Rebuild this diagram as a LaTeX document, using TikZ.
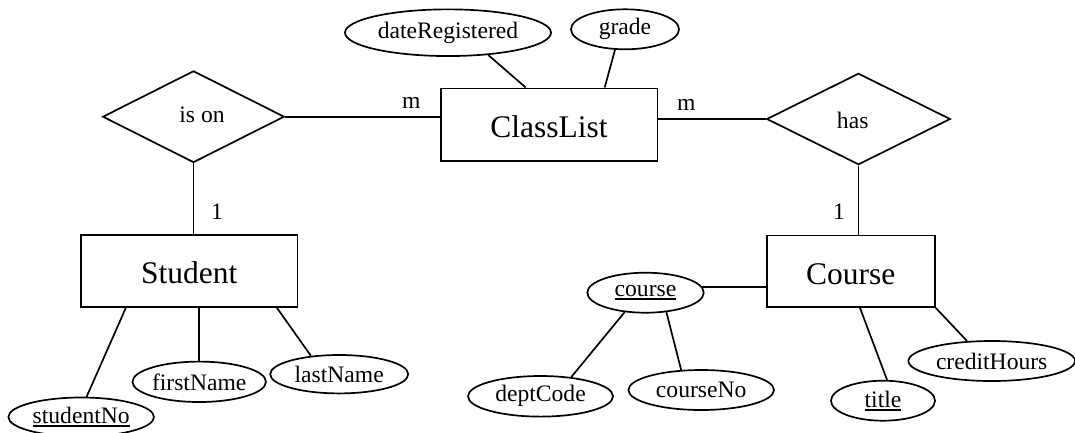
\documentclass[tikz,border=0pt]{standalone}
\usepackage{fontspec}
\setmainfont{Liberation Serif}
\usetikzlibrary{shapes.geometric,calc}
\newcommand\keyattr[1]{\setbox0\hbox{#1}\rlap{\rule[-3.6pt]{\wd0}{1.6pt}}\box0}
\begin{document}
\begin{tikzpicture}[x=1pt,y=-1pt,line width=1.7pt,
  entity/.style={draw,rectangle,inner sep=0pt,text height=26.5pt,font=\fontsize{31.5}{36}\selectfont},
  relation/.style={draw,diamond,inner sep=0pt},
  attr/.style={draw,ellipse,inner sep=0pt,font=\fontsize{23.6}{28}\selectfont},
  lbl/.style={inner sep=0pt,font=\fontsize{23.6}{28}\selectfont}]
\useasboundingbox (0,0) rectangle (1075,432);
% entities
\node[entity,minimum width=216.7pt,minimum height=72.3pt] (classlist) at (549,124.5) {ClassList};
\node[entity,minimum width=216.3pt,minimum height=71.7pt] (student) at (189.2,270.8) {Student};
\node[entity,minimum width=168.3pt,minimum height=71.7pt] (course) at (850.8,271.2) {Course};
% relationships
\node[relation,minimum width=181.6pt,minimum height=91.7pt,
  label={[lbl,name=isontext,xshift=8.5pt,yshift=2pt]center:is on}] (ison) at (193.5,116.7) {};
\node[relation,minimum width=183.6pt,minimum height=91.4pt,
  label={[lbl,name=hastext,xshift=-5.8pt,yshift=-1.7pt]center:has}] (has) at (858.5,119) {};
% attributes
\node[attr,minimum width=206pt,minimum height=46.7pt] (datereg) at (448,32.7) {dateRegistered};
\node[attr,minimum width=108pt,minimum height=40pt] (grade) at (625,29.3) {grade};
\node[attr,minimum width=145.6pt,minimum height=39pt] (studentno) at (81.2,417) {\keyattr{studentNo}};
\node[attr,minimum width=131.6pt,minimum height=40.4pt] (firstname) at (199.2,381.8) {firstName};
\node[attr,minimum width=138pt,minimum height=38.4pt] (lastname) at (339.2,374.2) {lastName};
\node[attr,minimum width=116.4pt,minimum height=40pt] (coursekey) at (645.5,292.7) {\keyattr{course}};
\node[attr,minimum width=145pt,minimum height=40.6pt] (deptcode) at (540.5,396.3) {deptCode};
\node[attr,minimum width=145.6pt,minimum height=40pt] (courseno) at (701.2,390) {courseNo};
\node[attr,minimum width=104pt,minimum height=40pt] (title) at (883,400.7) {\keyattr{title}};
\node[attr,minimum width=166.6pt,minimum height=40pt] (credithours) at (991.7,361) {creditHours};
% cardinalities
\node[lbl] (m1) at (411.3,103) {m};
\node[lbl] (m2) at (686.3,105) {m};
\node[lbl] (one1) at (217,212) {1};
\node[lbl] (one2) at (839,212) {1};
% connectors
\draw (ison.east) -- (ison.east -| classlist.west);
\draw (has.west -| classlist.east) -- (has.west);
\draw (ison.south) -- (ison.south |- student.north);
\draw (has.south) -- (has.south |- course.north);
\draw (datereg.-29) -- ($(classlist.north)+(-23.3,0)$);
\draw (grade.-116) -- ($(classlist.north)+(55.7,0)$);
\draw ($(student.south)+(-63.2,0)$) -- (studentno.75);
\draw (student.south -| firstname.north) -- (firstname.north);
\draw ($(student.south)+(87.5,0)$) -- (lastname.147);
\draw (coursekey.6) -- (coursekey.6 -| course.west);
\draw (coursekey.-137) -- (deptcode.32);
\draw (coursekey.-43) -- (courseno.135);
\draw ($(course.south)+(9.2,0)$) -- (title.79);
\draw (course.south east) -- (credithours.141);
\end{tikzpicture}
\end{document}
